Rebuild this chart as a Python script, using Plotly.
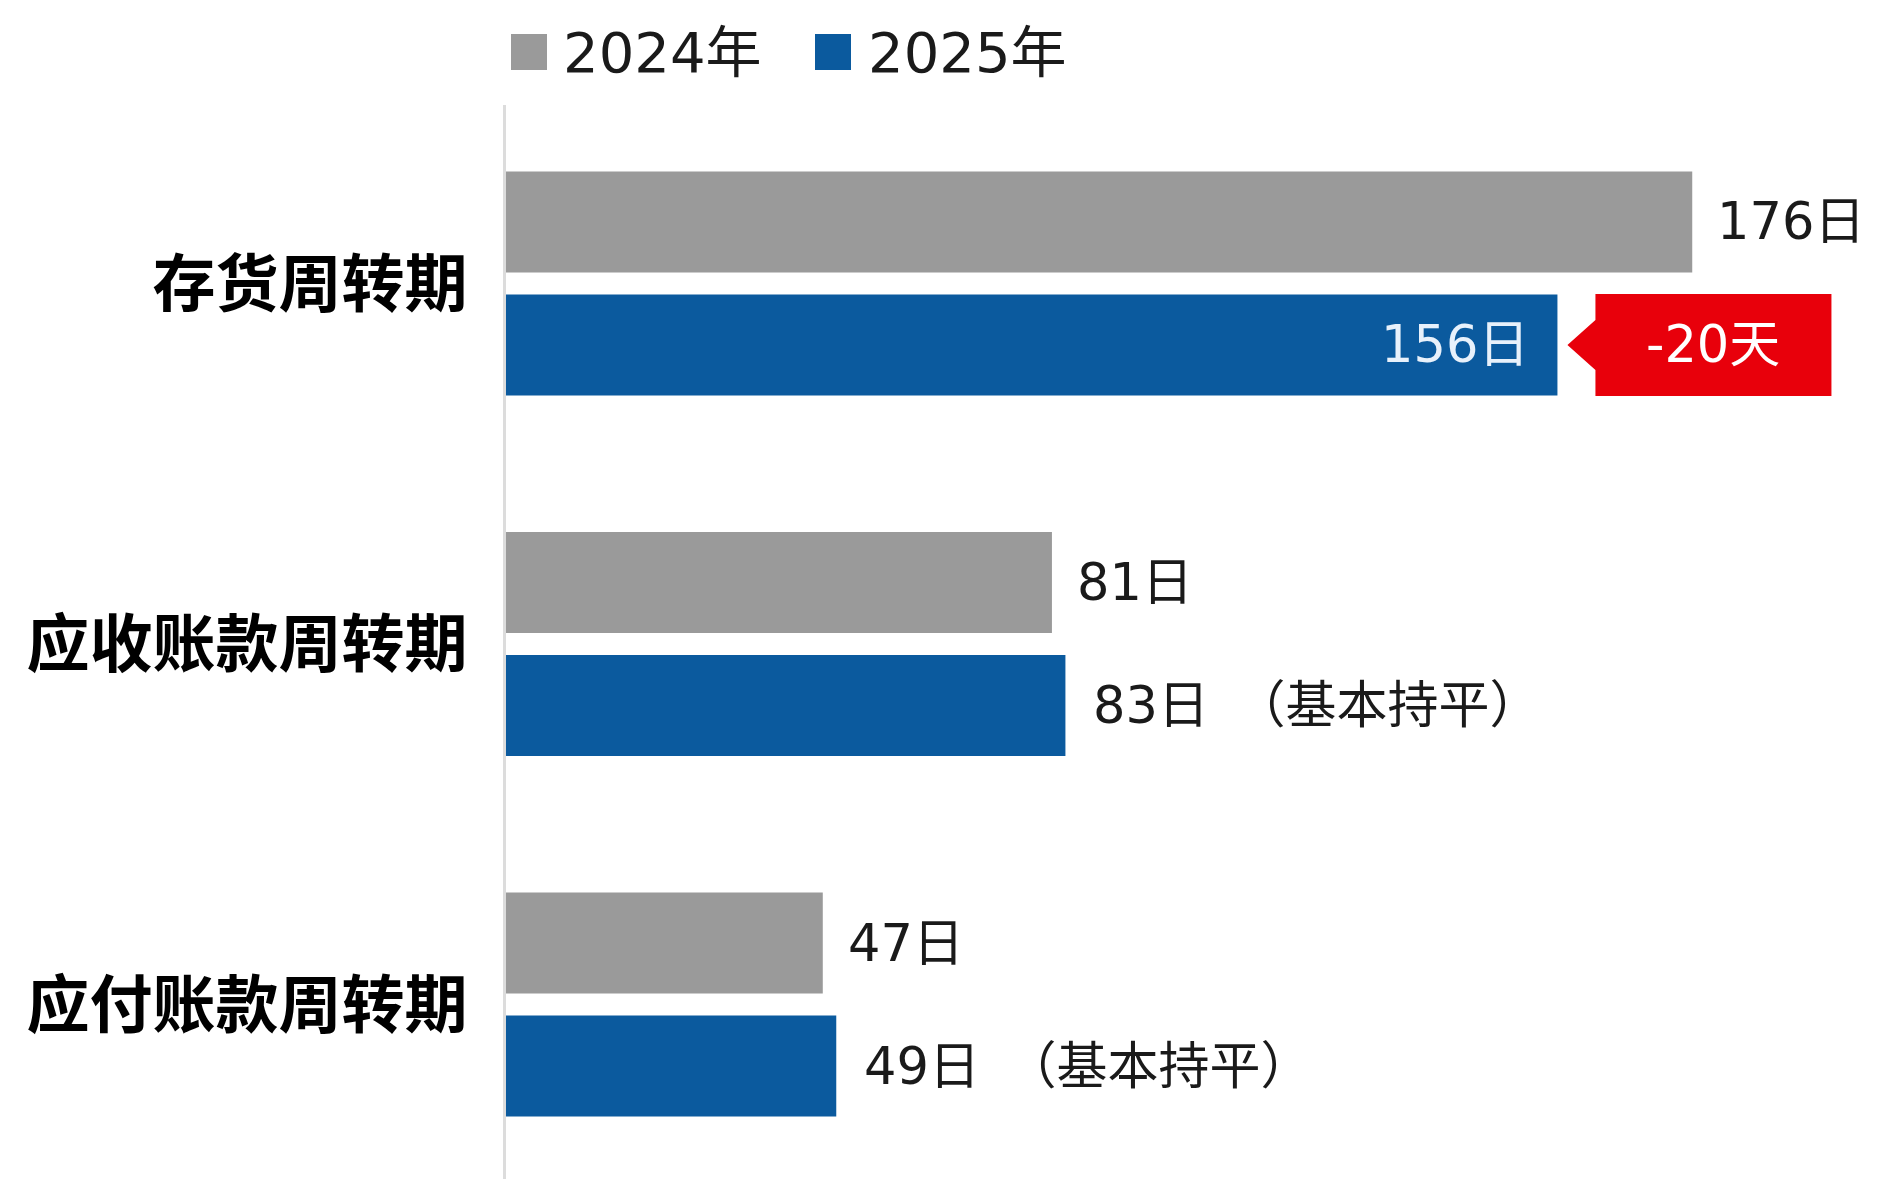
import plotly.graph_objects as go

# ---- data ----
categories = ["存货周转期", "应收账款周转期", "应付账款周转期"]
series_names = ["2024年", "2025年"]
values_2024 = [176, 81, 47]
values_2025 = [156, 83, 49]
labels_2024 = ["176日", "81日", "47日"]
labels_2025 = ["156日", "83日\u2002（基本持平）", "49日\u2002（基本持平）"]
change_label = "-20天"
change_index = 0

# ---- style ----
GRAY = "#9a9a9a"
BLUE = "#0b5a9e"
RED = "#e8000b"
CJK = "Noto Sans CJK SC"
MIX = "DejaVu Sans, Noto Sans CJK SC"
W, H = 1876, 1171          # page body has an 8px margin
L, T = 498, 97
PX_PER_UNIT = 6.74
BAR_OFF = 61.5  # half slot in px

fig = go.Figure()
fig.add_trace(go.Bar(y=categories, x=values_2024, name=series_names[0], orientation="h",
                     marker=dict(color=GRAY, line=dict(width=0)), showlegend=False,
                     hoverinfo="skip"))
fig.add_trace(go.Bar(y=categories, x=values_2025, name=series_names[1], orientation="h",
                     marker=dict(color=BLUE, line=dict(width=0)), showlegend=False,
                     hoverinfo="skip"))

annotations = []
# 2024 labels (outside right)
for c, v, t in zip(categories, values_2024, labels_2024):
    annotations.append(dict(x=v, y=c, xref="x", yref="y", text=t, showarrow=False,
                            xanchor="left", yanchor="middle", xshift=24, yshift=BAR_OFF,
                            borderpad=0, font=dict(family=MIX, size=51, color="#1a1a1a")))
# 2025 labels
for i, (c, v, t) in enumerate(zip(categories, values_2025, labels_2025)):
    if i == change_index:
        annotations.append(dict(x=v, y=c, xref="x", yref="y", text=t, showarrow=False,
                                xanchor="right", yanchor="middle", xshift=-27, yshift=-BAR_OFF,
                                borderpad=0, font=dict(family=MIX, size=51, color="#e8f1fb")))
    else:
        annotations.append(dict(x=v, y=c, xref="x", yref="y", text=t, showarrow=False,
                                xanchor="left", yanchor="middle", xshift=27, yshift=-BAR_OFF,
                                borderpad=0, font=dict(family=MIX, size=51, color="#1a1a1a")))

# red callout
cx = values_2025[change_index]
cy = categories[change_index]
tip, bx0, bx1 = 10, 38, 274
yc, hh, nh = -BAR_OFF, 51, 25
path = (f"M {tip},{yc} L {bx0},{yc + nh} L {bx0},{yc + hh} L {bx1},{yc + hh} "
        f"L {bx1},{yc - hh} L {bx0},{yc - hh} L {bx0},{yc - nh} Z")
shapes = [dict(type="path", xref="x", yref="y", xsizemode="pixel", ysizemode="pixel",
               xanchor=cx, yanchor=cy, path=path, fillcolor=RED, line=dict(width=0))]
annotations.append(dict(x=cx, y=cy, xref="x", yref="y", text=change_label, showarrow=False,
                        xanchor="center", yanchor="middle", xshift=(bx0 + bx1) / 2, yshift=-BAR_OFF,
                        borderpad=0, font=dict(family=MIX, size=51, color="white")))

# manual legend (large squares)
legend_items = [(series_names[0], GRAY, 5, 56), (series_names[1], BLUE, 309, 361)]
for name, col, sx, tx in legend_items:
    shapes.append(dict(type="rect", xref="paper", yref="paper", xsizemode="pixel", ysizemode="pixel",
                       xanchor=0, yanchor=1, x0=sx, x1=sx + 36, y0=35, y1=71,
                       fillcolor=col, line=dict(width=0)))
    annotations.append(dict(x=0, y=1, xref="paper", yref="paper", text=name, showarrow=False,
                            xanchor="left", yanchor="middle", xshift=tx, yshift=53, borderpad=0,
                            font=dict(family=MIX, size=56, color="#1a1a1a")))

fig.update_layout(
    width=W, height=H,
    margin=dict(l=L, r=0, t=T, b=0, pad=0),
    paper_bgcolor="white", plot_bgcolor="white",
    barmode="group", bargap=0.318, bargroupgap=0.179,
    shapes=shapes, annotations=annotations,
    xaxis=dict(range=[0, (W - L) / PX_PER_UNIT], showgrid=False, zeroline=False,
               showticklabels=False, showline=False, ticks=""),
    yaxis=dict(range=[2.484, -0.495], showgrid=False, zeroline=False,
               showline=True, linecolor="#dcdcdc", linewidth=3, ticks="",
               ticklabelstandoff=23,
               tickfont=dict(family=CJK, size=63, color="black", weight=700)),
    showlegend=False,
)

fig.write_html("out.html")
